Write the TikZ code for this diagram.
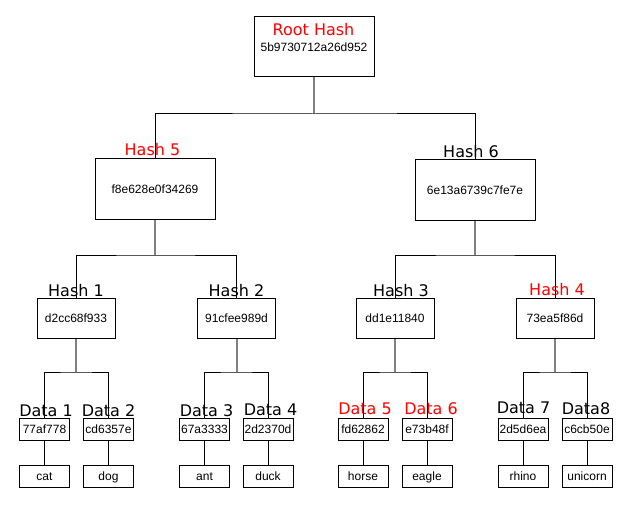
\documentclass[tikz,border=0pt]{standalone}
\usepackage{fontspec}
\setmainfont{Liberation Sans}
\newfontfamily\tagfamily{DejaVu Sans}
\usepackage{tikz}
\newcommand{\valfont}{\fontsize{12}{14}\selectfont}
\newcommand{\tagfont}{\tagfamily\fontsize{16}{19}\selectfont}
\tikzstyle{hashbox}=[draw, line width=1pt, minimum width=120pt, minimum height=60pt,
inner sep=0pt, font=\valfont, text height=8.6pt, text depth=0pt]
\tikzstyle{midbox} = [hashbox, minimum width=78pt, minimum height=40pt]
\tikzstyle{leafbox} = [hashbox, minimum width=50pt, minimum height=22pt]
\tikzstyle{tag}=[font=\tagfont, anchor=base, inner sep=0pt]
\tikzstyle{line} = [draw, line width=1pt]
\tikzstyle{stem} = [draw, line width=2pt, color=gray]
\newcommand{\boxnode}[3]{node (#1)[#2]{#3}}
\newcommand{\tagnode}[3]{node (t#1)[tag,#2]{#3}}

\begin{document}
\begin{tikzpicture}[x=1pt,y=-1pt]
	\useasboundingbox (0,0) rectangle (631,505);

	% Draw diagram elements
	\path (314,47) \boxnode{root}{hashbox}{};
	\path (root.north)+(-0.5,19) \tagnode{root}{text=red}{Root Hash};
	\path (root.north)+(0,35) node (vroot)[tag,font=\valfont]{5b9730712a26d952};

	\path (155,189) \boxnode{h5}{hashbox}{f8e628e0f34269};
	\path (475,190) \boxnode{h6}{hashbox}{6e13a6739c7fe7e};
	\path (h5.north)+(-2.5,-3) \tagnode{h5}{text=red}{Hash 5};
	\path (h6.north)+(-4,-2) \tagnode{h6}{}{Hash 6};

	\path (76,318) \boxnode{h1}{midbox}{d2cc68f933};
	\path (236.5,318) \boxnode{h2}{midbox}{91cfee989d};
	\path (395,318) \boxnode{h3}{midbox}{dd1e11840};
	\path (555,318) \boxnode{h4}{midbox}{73ea5f86d};
	\path (h1.north)+(0,-1) \tagnode{h1}{}{Hash 1};
	\path (h2.north)+(0,-1) \tagnode{h2}{}{Hash 2};
	\path (h3.north)+(6,-1) \tagnode{h3}{}{Hash 3};
	\path (h4.north)+(2,-2) \tagnode{h4}{text=red}{Hash 4};

	\path (44.5,429) \boxnode{d1}{leafbox}{77af778};
	\path (108.5,429) \boxnode{d2}{leafbox}{cd6357e};
	\path (204.5,429) \boxnode{d3}{leafbox}{67a3333};
	\path (268,429) \boxnode{d4}{leafbox}{2d2370d};
	\path (363,429) \boxnode{d5}{leafbox}{fd62862};
	\path (427,429) \boxnode{d6}{leafbox}{e73b48f};
	\path (523,429) \boxnode{d7}{leafbox}{2d5d6ea};
	\path (587,429) \boxnode{d8}{leafbox}{c6cb50e};
	\path (d1.north)+(1.5,-1.5) \tagnode{d1}{}{Data 1};
	\path (d2.north)+(0,-1.5) \tagnode{d2}{}{Data 2};
	\path (d3.north)+(2,-1.5) \tagnode{d3}{}{Data 3};
	\path (d4.north)+(2.5,-2) \tagnode{d4}{}{Data 4};
	\path (d5.north)+(2,-3) \tagnode{d5}{text=red}{Data 5};
	\path (d6.north)+(4,-3) \tagnode{d6}{text=red}{Data 6};
	\path (d7.north)+(0.5,-4) \tagnode{d7}{}{Data 7};
	\path (d8.north)+(-1,-3) \tagnode{d8}{}{Data8};

	\path (d1.south)+(0,36) \boxnode{l1}{leafbox}{cat};
	\path (d2.south)+(0,36) \boxnode{l2}{leafbox}{dog};
	\path (d3.south)+(0,36) \boxnode{l3}{leafbox}{ant};
	\path (d4.south)+(0,36) \boxnode{l4}{leafbox}{duck};
	\path (d5.south)+(0,36) \boxnode{l5}{leafbox}{horse};
	\path (d6.south)+(0,36) \boxnode{l6}{leafbox}{eagle};
	\path (d7.south)+(0,36) \boxnode{l7}{leafbox}{rhino};
	\path (d8.south)+(0,36) \boxnode{l8}{leafbox}{unicorn};

	% junctions of the tree
	\coordinate (jr) at (314,114);
	\coordinate (j5) at (155,255);
	\coordinate (j6) at (475,255);
	\coordinate (j1) at (76,372);
	\coordinate (j2) at (236.5,372);
	\coordinate (j3) at (395,372);
	\coordinate (j4) at (555,372);

	% Draw lines between elements
	\path [stem] (root.south) -- (jr);
	\path [line] (h5.north) |- (jr) -| (h6.north);
	\path [stem] (h5.south) -- (j5);
	\path [line] (h1.north) |- (j5) -| (h2.north);
	\path [stem] (h6.south) -- (j6);
	\path [line] (h3.north) |- (j6) -| (h4.north);
	\path [stem] (h1.south) -- (j1);
	\path [line] (d1.north) |- (j1) -| (d2.north);
	\path [stem] (h2.south) -- (j2);
	\path [line] (d3.north) |- (j2) -| (d4.north);
	\path [stem] (h3.south) -- (j3);
	\path [line] (d5.north) |- (j3) -| (d6.north);
	\path [stem] (h4.south) -- (j4);
	\path [line] (d7.north) |- (j4) -| (d8.north);
	\path [line] (d1) -- (l1);
	\path [line] (d2) -- (l2);
	\path [line] (d3) -- (l3);
	\path [line] (d4) -- (l4);
	\path [line] (d5) -- (l5);
	\path [line] (d6) -- (l6);
	\path [line] (d7) -- (l7);
	\path [line] (d8) -- (l8);
\end{tikzpicture}
\end{document}
